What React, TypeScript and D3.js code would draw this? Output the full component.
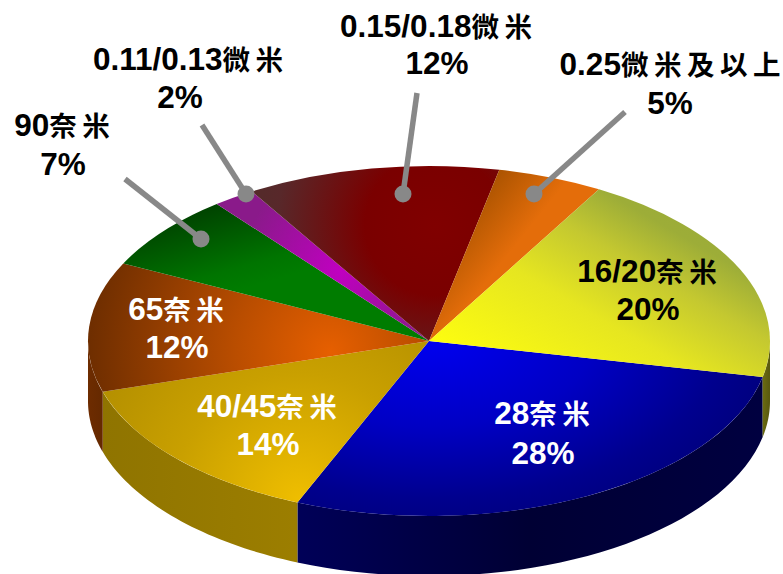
import React from "react";
import * as d3 from "d3";

const W = 783, H = 574;
// slice data, clockwise starting at the 28nm slice
const nodeNames = ["28奈米", "40/45奈米", "65奈米", "90奈米", "0.11/0.13微米", "0.15/0.18微米", "0.25微米及以上", "16/20奈米"];
const shares = [28, 14, 12, 7, 2, 12, 5, 20];

// Layout
const CX = 429, CY = 341, RX = 341, RY = 175, DEPTH = 60;
const START = ((90 + 11.9) * Math.PI) / 180;

const latinFont = "'Liberation Sans', Arial, sans-serif";
const cjkFont = "'Noto Sans CJK TC', sans-serif";

type Stop = [number, string];
type Grad = { kind: "l" | "r"; a: number[]; stops: Stop[]; sy?: number };
const topGrads: Grad[] = [
  { kind: "r", a: [429, 335, 370], sy: 0.55, stops: [[0, "#0000f2"], [0.45, "#0000c4"], [0.8, "#00008e"], [1, "#00007a"]] },
  { kind: "r", a: [300, 500, 230], stops: [[0, "#efbe00"], [0.55, "#c9a000"], [1, "#b38f00"]] },
  { kind: "r", a: [330, 352, 240], stops: [[0, "#e65f00"], [0.4, "#b94d00"], [1, "#6f2e00"]] },
  { kind: "l", a: [215, 205, 240, 290], stops: [[0, "#004300"], [0.75, "#007400"], [1, "#007c00"]] },
  { kind: "r", a: [340, 270, 100], stops: [[0, "#c000c0"], [1, "#8a1a8a"]] },
  { kind: "r", a: [435, 225, 175], stops: [[0, "#800000"], [0.4, "#7a0000"], [0.9, "#58282a"], [1, "#552a2a"]] },
  { kind: "l", a: [490, 175, 540, 215], stops: [[0, "#a85200"], [1, "#e46d0a"]] },
  { kind: "l", a: [445, 345, 570, 128], stops: [[0, "#fcfc10"], [0.4, "#e6e620"], [0.66, "#c4c830"], [0.85, "#9dad38"], [1, "#9aab38"]] },
];
const sideGrads: Record<number, Stop[]> = {
  0: [[0, "#000058"], [0.5, "#000034"], [1, "#000040"]],
  1: [[0, "#8f7400"], [1, "#9c7e00"]],
  2: [[0, "#6e2c00"], [1, "#662900"]],
  7: [[0, "#6e6e10"], [1, "#5a5a10"]],
};
const sideExtents: Record<number, [number, number]> = { 0: [296, 762], 1: [101, 296], 2: [87, 101], 7: [762, 769] };

type Label = { lines: [string, string]; x: number; y1: number; y2: number; x2: number; fill: string };
const labelLayout: Label[] = [
  { lines: ["28", "奈米"], x: 542, x2: 543, y1: 424, y2: 464, fill: "#fff" },
  { lines: ["40/45", "奈米"], x: 267, x2: 268, y1: 417, y2: 455, fill: "#fff" },
  { lines: ["65", "奈米"], x: 176, x2: 177, y1: 320, y2: 358, fill: "#fff" },
  { lines: ["90", "奈米"], x: 62, x2: 63, y1: 136, y2: 175, fill: "#000" },
  { lines: ["0.11/0.13", "微米"], x: 188, x2: 180, y1: 70, y2: 108, fill: "#000" },
  { lines: ["0.15/0.18", "微米"], x: 436, x2: 437, y1: 37, y2: 74, fill: "#000" },
  { lines: ["0.25", "微米及以上"], x: 670, x2: 670, y1: 75, y2: 114, fill: "#000" },
  { lines: ["16/20", "奈米"], x: 647, x2: 648, y1: 282, y2: 320, fill: "#000" },
];
// leader: [far end x, y, dot x, y]
const leaders = [
  [125, 179, 201, 239],
  [202, 125, 246, 194],
  [417, 93, 403, 194],
  [625, 112, 534, 194],
];

const pieGen = d3.pie<number>().sort(null).startAngle(START).endAngle(START + 2 * Math.PI);
const arcs = pieGen(shares);
const xs = d3.scaleLinear().domain([-1, 1]).range([CX - RX, CX + RX]);
const ys = d3.scaleLinear().domain([-1, 1]).range([CY - RY, CY + RY]);

// d3 angle: 0 at 12 o'clock, clockwise
const px = (a: number) => xs(Math.sin(a));
const py = (a: number) => ys(-Math.cos(a));

function facePath(d: d3.PieArcDatum<number>) {
  const a0 = d.startAngle, a1 = d.endAngle;
  const large = a1 - a0 > Math.PI ? 1 : 0;
  return `M${CX},${CY}L${px(a0)},${py(a0)}A${RX},${RY} 0 ${large} 1 ${px(a1)},${py(a1)}Z`;
}

function sidePath(a0: number, a1: number) {
  const n = d3.range(0, 41).map((i) => a0 + ((a1 - a0) * i) / 40);
  const line = d3.line<number[]>();
  const top = n.map((a) => [px(a), py(a)]);
  const bottom = n.slice().reverse().map((a) => [px(a), py(a) + DEPTH]);
  return line([...top, ...bottom]) + "Z";
}

const PI = Math.PI;
const visible = (d: d3.PieArcDatum<number>): [number, number][] => {
  const out: [number, number][] = [];
  for (const shift of [0, 2 * PI]) {
    const a = Math.max(d.startAngle, PI / 2 + shift);
    const b = Math.min(d.endAngle, (3 * PI) / 2 + shift);
    if (b > a) out.push([a, b]);
  }
  return out;
};

function CaptionLine({ label }: { label: Label }) {
  const [latin, cjk] = label.lines;
  const head = cjk.slice(0, -1);
  const tail = cjk.slice(-1);
  return (
    <text x={label.x} y={label.y1} textAnchor="middle" fill={label.fill}>
      <tspan fontFamily={latinFont} fontWeight={700} fontSize={31.5}>{latin}</tspan>
      <tspan fontFamily={cjkFont} fontWeight={700} fontSize={27.5} letterSpacing={5.5}>{head}</tspan>
      <tspan fontFamily={cjkFont} fontWeight={700} fontSize={27.5}>{tail}</tspan>
    </text>
  );
}

export default function App() {
  return (
    <svg width={W} height={H} viewBox={`0 0 ${W} ${H}`} style={{ position: "absolute", left: 0, top: 0, background: "#fff" }}>
      <defs>
        {topGrads.map((g, i) =>
          g.kind === "r" ? (
            <radialGradient key={i} id={`top${i}`} gradientUnits="userSpaceOnUse" cx={0} cy={0} r={g.a[2]}
              gradientTransform={`translate(${g.a[0]},${g.a[1]}) scale(1,${g.sy ?? 1})`}>
              {g.stops.map(([o, c], j) => <stop key={j} offset={o} stopColor={c} />)}
            </radialGradient>
          ) : (
            <linearGradient key={i} id={`top${i}`} gradientUnits="userSpaceOnUse" x1={g.a[0]} y1={g.a[1]} x2={g.a[2]} y2={g.a[3]}>
              {g.stops.map(([o, c], j) => <stop key={j} offset={o} stopColor={c} />)}
            </linearGradient>
          )
        )}
        {Object.entries(sideGrads).map(([k, stops]) => (
          <linearGradient key={k} id={`side${k}`} gradientUnits="userSpaceOnUse"
            x1={sideExtents[+k][0]} x2={sideExtents[+k][1]} y1={0} y2={0}>
            {stops.map(([o, c], j) => <stop key={j} offset={o} stopColor={c} />)}
          </linearGradient>
        ))}
      </defs>
      <g>
        {arcs.map((d, i) => visible(d).map(([a, b], j) => (
          <path key={`${i}-${j}`} d={sidePath(a, b)} fill={`url(#side${i})`} />
        )))}
      </g>
      <g>
        {arcs.map((d, i) => (
          <path key={nodeNames[i]} d={facePath(d)} fill={`url(#top${i})`} />
        ))}
      </g>
      <g stroke="#888" fill="#888">
        {leaders.map((l, i) => (
          <g key={i}>
            <line x1={l[0]} y1={l[1]} x2={l[2]} y2={l[3]} strokeWidth={5.5} />
            <circle cx={l[2]} cy={l[3]} r={8.5} stroke="none" />
          </g>
        ))}
      </g>
      <g>
        {labelLayout.map((l, i) => (
          <g key={i}>
            <CaptionLine label={l} />
            <text x={l.x2} y={l.y2} textAnchor="middle" fill={l.fill}
              fontFamily={latinFont} fontWeight={700} fontSize={31.5}>{shares[i]}%</text>
          </g>
        ))}
      </g>
    </svg>
  );
}
